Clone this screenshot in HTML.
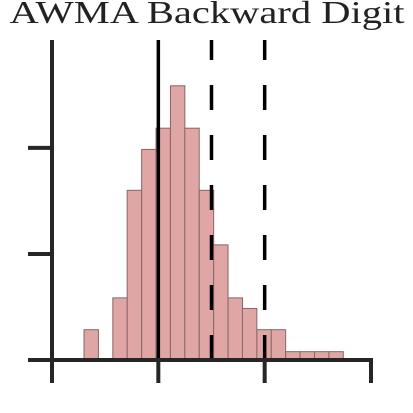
<!DOCTYPE html>
<html><head><meta charset="utf-8"><style>
html,body{margin:0;padding:0;background:#fff;width:413px;height:413px;overflow:hidden}
svg text{font-family:"Liberation Serif",serif}
</style></head><body>
<svg id="chart" width="413" height="413" viewBox="0 0 413 413" xmlns="http://www.w3.org/2000/svg">
<text x="207" y="23" font-size="32" text-anchor="middle" fill="#222" textLength="395" lengthAdjust="spacingAndGlyphs">AWMA Backward Digit</text>
<g id="bars"></g>
<g id="refs"></g>
<g id="axes"></g>
</svg>
<script>
const binStarts = [0.301,0.436,0.572,0.707,0.843,0.978,1.114,1.249,1.385,1.520,1.656,1.791,1.927,2.062,2.198,2.333,2.469,2.604];
const binWidth = 0.1355;
const counts = [2,0,4.1,11.2,13.9,15.3,18.1,15.3,11.2,7.6,4.1,3.4,2,2,0.55,0.55,0.55,0.55];
const refSolid = [1];
const refDashed = [1.5,2];
const xTicks = [0,1,2,3];
const yTicks = [0,7,14];

const NS="http://www.w3.org/2000/svg";
const X0=52,X1=371,Y0=360,UNIT=15.15;
function xs(v){return X0+(X1-X0)*v/3;}
function ys(v){return Y0-v*UNIT;}
function mk(tag,attrs,parent){const e=document.createElementNS(NS,tag);for(const k in attrs)e.setAttribute(k,attrs[k]);parent.appendChild(e);return e;}
const bars=document.getElementById('bars'),refs=document.getElementById('refs'),axes=document.getElementById('axes');
binStarts.forEach((b,i)=>{
  if(counts[i]<=0)return;
  const r=mk('rect',{x:xs(b),y:ys(counts[i]),width:xs(b+binWidth)-xs(b),height:Y0-ys(counts[i]),fill:'#e0a5a5',stroke:'#8a6666','stroke-width':1},bars);
  
  
});
refSolid.forEach(v=>{
  const l=mk('line',{x1:xs(v),x2:xs(v),y1:Y0,y2:40,stroke:'#000','stroke-width':3.5},refs);
  
  
});
refDashed.forEach(v=>{
  const l=mk('line',{x1:xs(v),x2:xs(v),y1:Y0,y2:40,stroke:'#000','stroke-width':3.5,'stroke-dasharray':'25,25'},refs);
  
  
});
const ya=mk('line',{x1:X0,x2:X0,y1:Y0+2,y2:40,stroke:'#262626','stroke-width':4},axes);


const xa=mk('line',{x1:X0-2,x2:X1+2,y1:Y0,y2:Y0,stroke:'#262626','stroke-width':4},axes);


xTicks.forEach(v=>{
  const t=mk('line',{x1:xs(v),x2:xs(v),y1:Y0,y2:383,stroke:'#262626','stroke-width':4},axes);
  
  
});
yTicks.forEach(v=>{
  const t=mk('line',{x1:28,x2:X0,y1:ys(v),y2:ys(v),stroke:'#262626','stroke-width':4},axes);
  
  
});
</script>
</body></html>
